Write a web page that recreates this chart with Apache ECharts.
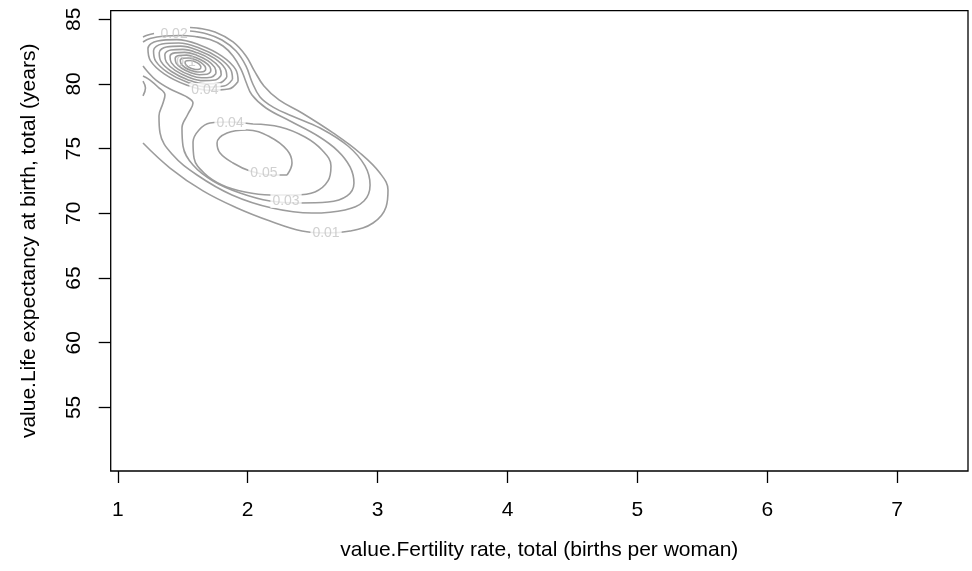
<!DOCTYPE html>
<html>
<head>
<meta charset="utf-8">
<script src="https://cdn.jsdelivr.net/npm/echarts@6/dist/echarts.min.js"></script>
<style>
  html, body { margin: 0; padding: 0; background: #fff; }
  #chart { width: 972px; height: 571px; }
</style>
</head>
<body>
<div id="chart"></div>
<script>
// ticks
const xTicks = [1, 2, 3, 4, 5, 6, 7];
const yTicks = [55, 60, 65, 70, 75, 80, 85];

// contour lines, [fertility, life expectancy]
const level01 = [[1.194,75.43],[1.402,73.50],[1.656,71.73],[1.918,70.41],[2.172,69.40],[2.418,68.63],[2.595,68.48],[2.788,68.63],[2.965,69.25],[3.065,70.49],[3.080,71.80],[3.018,73.11],[2.864,74.66],[2.657,76.21],[2.418,77.75],[2.241,78.76],[2.125,79.84],[2.048,81.07],[1.987,82.16],[1.887,83.24],[1.748,84.01],[1.610,84.32],[1.556,84.36]];
const level01b = [[1.194,80.22],[1.213,79.68],[1.194,79.07]];
const level02a = [[1.194,83.62],[1.232,83.78],[1.279,83.89]];
const level02 = [[1.556,84.09],[1.687,83.86],[1.802,83.39],[1.910,82.54],[1.987,81.38],[2.033,80.15],[2.095,78.99],[2.195,78.21],[2.341,77.52],[2.557,76.59],[2.772,75.20],[2.903,73.66],[2.942,72.19],[2.895,70.95],[2.749,70.26],[2.495,70.02],[2.187,70.41],[1.879,71.42],[1.610,72.96],[1.417,74.58],[1.325,76.21],[1.317,77.52],[1.348,78.52],[1.363,79.14],[1.309,79.76],[1.248,80.30],[1.194,80.61]];
const level03 = [[1.194,83.24],[1.248,83.51],[1.363,83.70],[1.479,83.74],[1.594,83.66],[1.710,83.43],[1.810,82.93],[1.887,82.16],[1.948,81.15],[1.987,80.15],[2.033,79.14],[2.141,78.14],[2.326,77.13],[2.541,75.97],[2.695,74.81],[2.788,73.58],[2.818,72.34],[2.765,71.34],[2.618,70.87],[2.403,70.80],[2.172,70.95],[1.941,71.57],[1.733,72.50],[1.579,73.73],[1.502,75.20],[1.494,76.59],[1.540,77.67],[1.579,78.52],[1.517,79.07],[1.402,79.61],[1.294,80.30],[1.225,81.00],[1.194,81.38]];
const level04Low = [[2.041,76.90],[2.249,76.67],[2.441,75.90],[2.572,74.89],[2.641,73.66],[2.618,72.50],[2.518,71.65],[2.364,71.42],[2.172,71.42],[1.979,71.65],[1.802,72.19],[1.664,73.11],[1.587,74.27],[1.579,75.51],[1.625,76.44],[1.710,76.98],[1.864,77.06],[2.041,76.90]];
const level05Low = [[2.303,72.96],[2.341,73.89],[2.303,74.89],[2.172,75.90],[1.995,76.44],[1.841,76.21],[1.764,75.43],[1.787,74.66],[1.887,73.89],[2.018,73.27],[2.172,72.96],[2.303,72.96]];
const peak04 = [[1.926,80.19],[1.852,79.60],[1.704,79.51],[1.524,79.94],[1.357,80.78],[1.251,81.80],[1.232,82.73],[1.306,83.32],[1.454,83.42],[1.634,82.99],[1.801,82.15],[1.907,81.12],[1.926,80.19]];
const peak05 = [[1.883,80.35],[1.818,79.84],[1.689,79.76],[1.531,80.14],[1.386,80.87],[1.292,81.76],[1.275,82.57],[1.340,83.08],[1.469,83.16],[1.627,82.78],[1.772,82.05],[1.866,81.16],[1.883,80.35]];
const peak06 = [[1.839,80.51],[1.784,80.07],[1.674,80.00],[1.538,80.33],[1.413,80.96],[1.333,81.72],[1.319,82.41],[1.374,82.85],[1.484,82.92],[1.620,82.59],[1.745,81.97],[1.825,81.20],[1.839,80.51]];
const peak07 = [[1.796,80.67],[1.750,80.30],[1.658,80.25],[1.545,80.52],[1.441,81.04],[1.374,81.68],[1.362,82.25],[1.408,82.62],[1.500,82.67],[1.613,82.40],[1.717,81.88],[1.784,81.25],[1.796,80.67]];
const peak08 = [[1.756,80.81],[1.719,80.52],[1.644,80.48],[1.551,80.70],[1.466,81.12],[1.412,81.64],[1.402,82.11],[1.439,82.40],[1.514,82.44],[1.607,82.22],[1.692,81.80],[1.746,81.28],[1.756,80.81]];
const peak09 = [[1.716,80.96],[1.687,80.74],[1.629,80.71],[1.558,80.88],[1.492,81.21],[1.449,81.61],[1.442,81.96],[1.471,82.19],[1.529,82.22],[1.600,82.04],[1.666,81.71],[1.709,81.32],[1.716,80.96]];
const peak10 = [[1.677,81.10],[1.656,80.94],[1.614,80.92],[1.564,81.04],[1.517,81.27],[1.487,81.56],[1.481,81.82],[1.502,81.98],[1.544,82.00],[1.594,81.88],[1.641,81.65],[1.671,81.36],[1.677,81.10]];
const peak11 = [[1.640,81.24],[1.627,81.13],[1.601,81.11],[1.569,81.19],[1.539,81.33],[1.521,81.52],[1.518,81.69],[1.531,81.79],[1.557,81.81],[1.589,81.74],[1.619,81.59],[1.637,81.40],[1.640,81.24]];

// contour labels (the first five break their line with a white box)
const labelText = ['0.01', '0.03', '0.04', '0.05', '0.04', '0.02', '0.1'];
const labelPos = [[2.603,68.48],[2.295,70.95],[1.864,76.98],[2.125,73.11],[1.671,79.53],[1.433,83.86],[1.525,81.69]];

const FONT = '"Liberation Sans", Arial, Helvetica, sans-serif';
const LINE = '#9c9c9c';

const contours = [level01, level01b, level02a, level02, level03, level04Low, level05Low,
  peak04, peak05, peak06, peak07, peak08, peak09, peak10, peak11];

const series = contours.map(function (pts) {
  return {
    type: 'line',
    data: pts,
    smooth: 0.4,
    showSymbol: false,
    symbol: 'none',
    silent: true,
    lineStyle: { color: LINE, width: 1.6 },
    z: 2
  };
});

series.push({
  type: 'scatter',
  silent: true,
  symbolSize: 1,
  itemStyle: { color: 'rgba(0,0,0,0)' },
  z: 5,
  data: labelText.map(function (t, i) {
    const item = { name: t, value: labelPos[i] };
    if (i >= 5) item.label = { backgroundColor: 'transparent' };
    return item;
  }),
  label: {
    show: true,
    position: 'inside',
    formatter: '{b}',
    color: '#c4c4c4',
    fontSize: 14,
    fontFamily: FONT,
    backgroundColor: '#fff',
    padding: [0, 2]
  }
});

const chart = echarts.init(document.getElementById('chart'), null, { renderer: 'canvas' });
chart.setOption({
  animation: false,
  backgroundColor: '#fff',
  grid: {
    left: 110.7, right: 4, top: 10.7, bottom: 100,
    show: true, borderColor: '#000', borderWidth: 1.3,
    containLabel: false, outerBoundsMode: 'none'
  },
  xAxis: {
    type: 'value',
    min: 0.9453, max: 7.545,
    name: 'value.Fertility rate, total (births per woman)',
    nameLocation: 'middle',
    nameGap: 69,
    nameTextStyle: { color: '#000', fontSize: 21, fontFamily: FONT },
    axisLine: { show: false },
    splitLine: { show: false },
    axisTick: { show: true, length: 12, inside: false, customValues: xTicks, lineStyle: { color: '#000', width: 1.3 } },
    axisLabel: { customValues: xTicks, margin: 29, color: '#000', fontSize: 21, fontFamily: FONT }
  },
  yAxis: {
    type: 'value',
    min: 50.085, max: 85.657,
    name: 'value.Life expectancy at birth, total (years)',
    nameLocation: 'middle',
    nameGap: 71,
    nameTextStyle: { color: '#000', fontSize: 21, fontFamily: FONT },
    axisLine: { show: false },
    splitLine: { show: false },
    axisTick: { show: true, length: 12, inside: false, customValues: yTicks, lineStyle: { color: '#000', width: 1.3 } },
    axisLabel: { customValues: yTicks, rotate: 90, margin: 26, color: '#000', fontSize: 21, fontFamily: FONT }
  },
  series: series
});
</script>
</body>
</html>
